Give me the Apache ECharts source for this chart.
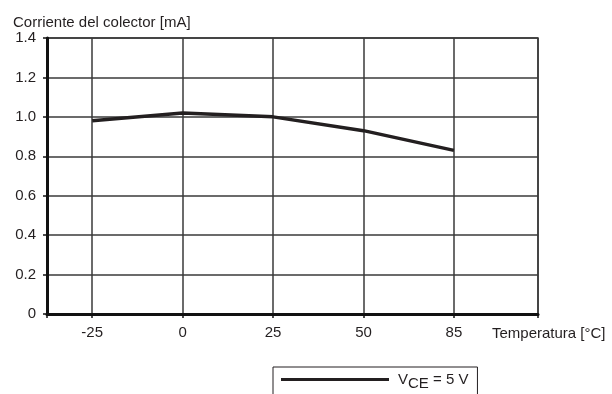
<!DOCTYPE html>
<html>
<head>
<meta charset="utf-8">
<script src="https://cdn.jsdelivr.net/npm/echarts@6/dist/echarts.min.js"></script>
<style>
  html, body { margin: 0; padding: 0; background: #fff; }
  #chart { width: 612px; height: 394px; }
</style>
</head>
<body>
<div id="chart"></div>
<script>
const tempLabels = ["-25", "0", "25", "50", "85"];
const tempIndex = [0, 1, 2, 3, 4];
const collectorCurrent = [0.98, 1.02, 1.0, 0.93, 0.83];
const yTicks = [0, 0.2, 0.4, 0.6, 0.8, 1.0, 1.2, 1.4];

const font = "Liberation Sans, Arial, sans-serif";
const ink = "#231f20";

// x ticks: both plot edges plus one per temperature
const xMin = -0.5;
const xMax = 4.93;
const xTickValues = [xMin, ...tempIndex, xMax];

const getOption = () => {
    return {
        animation: false,
        textStyle: { fontFamily: font },
        title: {
            text: "Corriente del colector [mA]",
            left: 8,
            top: 10,
            textStyle: { fontSize: 15, fontWeight: "normal", color: ink, fontFamily: font }
        },
        legend: {
            left: 273,
            top: 367,
            itemWidth: 108,
            itemHeight: 3,
            itemGap: 0,
            padding: [5, 9, 5, 8],
            borderColor: ink,
            borderWidth: 1,
            icon: "rect",
            formatter: () => "{v|V}{b|CE}{a| = 5 V}",
            textStyle: {
                color: ink,
                rich: {
                    v: { fontSize: 15, fontFamily: font, color: ink, padding: [0, 0, 0, 4] },
                    a: { fontSize: 15, fontFamily: font, color: ink },
                    b: { fontSize: 15, fontFamily: font, color: ink, padding: [8, 0, 0, 0] }
                }
            },
            data: ["VCE"]
        },
        grid: {
            left: 47,
            right: 74,
            top: 38,
            bottom: 80,
            show: true,
            borderColor: "#3a3a3a",
            borderWidth: 1.5
        },
        xAxis: {
            type: "value",
            min: xMin,
            max: xMax,
            name: "Temperatura [°C]",
            nameLocation: "end",
            nameGap: -46,
            nameTextStyle: {
                fontSize: 15,
                color: ink,
                align: "left",
                verticalAlign: "top",
                padding: [12, 0, 0, 0]
            },
            axisLine: { onZero: false, lineStyle: { color: "#111", width: 3 } },
            axisTick: {
                show: true,
                length: 4,
                customValues: xTickValues,
                lineStyle: { color: "#111", width: 1.5 }
            },
            axisLabel: {
                customValues: tempIndex,
                fontSize: 15,
                color: ink,
                margin: 11,
                formatter: (v) => tempLabels[Math.round(v)]
            },
            splitLine: {
                show: true,
                customValues: tempIndex,
                lineStyle: { color: "#3a3a3a", width: 1.5 }
            }
        },
        yAxis: {
            type: "value",
            min: yTicks[0],
            max: yTicks[yTicks.length - 1],
            interval: 0.2,
            axisLine: { show: true, onZero: false, lineStyle: { color: "#111", width: 3 } },
            axisTick: { show: true, length: 4, lineStyle: { color: "#111", width: 1.5 } },
            axisLabel: {
                fontSize: 15,
                color: ink,
                margin: 11,
                formatter: (v) => (v === 0 ? "0" : v.toFixed(1))
            },
            splitLine: { show: true, lineStyle: { color: "#3a3a3a", width: 1.5 } }
        },
        series: [
            {
                name: "VCE",
                type: "line",
                data: tempIndex.map((x, i) => [x, collectorCurrent[i]]),
                symbol: "none",
                lineStyle: { color: ink, width: 3.5 },
                itemStyle: { color: ink }
            }
        ]
    };
};

window.addEventListener("load", () => {
    const chart = echarts.init(document.getElementById("chart"));
    chart.setOption(getOption());
});
</script>
</body>
</html>
